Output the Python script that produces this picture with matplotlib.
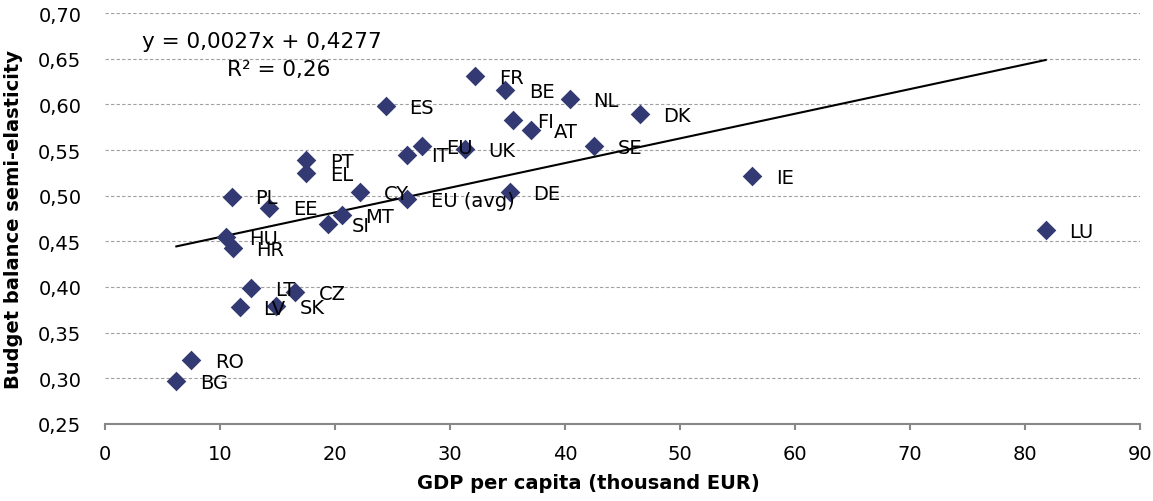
import numpy as np
import matplotlib
matplotlib.use("Agg")
import matplotlib.pyplot as plt
from matplotlib.ticker import FuncFormatter, MultipleLocator

# values
countries = ['FR', 'BE', 'NL', 'DK', 'ES', 'FI', 'AT', 'SE', 'IT', 'EU', 'UK',
             'PT', 'EL', 'CY', 'EU (avg)', 'PL', 'EE', 'MT', 'SI', 'HU', 'HR',
             'LT', 'LV', 'SK', 'CZ', 'RO', 'BG', 'DE', 'IE', 'LU']
gdp_pc = [32.2, 34.8, 40.4, 46.5, 24.4, 35.5, 37.0, 42.5, 26.3, 27.6, 31.3,
          17.5, 17.5, 22.2, 26.3, 11.0, 14.3, 20.6, 19.4, 10.5, 11.1,
          12.7, 11.7, 14.9, 16.5, 7.5, 6.2, 35.2, 56.3, 81.8]
semi_elast = [0.631, 0.616, 0.606, 0.589, 0.598, 0.583, 0.572, 0.554, 0.545, 0.554, 0.551,
              0.539, 0.525, 0.504, 0.496, 0.499, 0.487, 0.479, 0.469, 0.455, 0.443,
              0.399, 0.378, 0.379, 0.394, 0.320, 0.297, 0.504, 0.521, 0.462]

# linear trend as printed on the chart
slope = 0.0027
intercept = 0.4277
r_squared = 0.26

marker_col = '#333a73'
fs = 14

fig = plt.figure(figsize=(11.53, 5.02), dpi=100)
ax = fig.add_axes([0.0911, 0.1534, 0.8976, 0.8187])

ax.scatter(gdp_pc, semi_elast, marker='D', s=100, color=marker_col, zorder=3, linewidths=0)

for name, x, y in zip(countries, gdp_pc, semi_elast):
    ax.annotate(name, (x, y), xytext=(17, 0.5), textcoords='offset points',
                ha='left', va='center_baseline', fontsize=fs, color='black', zorder=4)

# trend line over the data range
x_line = np.array([min(gdp_pc), max(gdp_pc)])
ax.plot(x_line, slope * x_line + intercept, color='black', lw=1.5, zorder=2)

eq = 'y = {:.4f}x + {:.4f}'.format(slope, intercept).replace('.', ',')
ax.text(13.65, 0.6715, eq, ha='center', va='center_baseline', fontsize=15.5)
ax.text(15.1, 0.641, 'R² = {:.2f}'.format(r_squared).replace('.', ','),
        ha='center', va='center_baseline', fontsize=15.5)

ax.set_xlim(0, 90)
ax.set_ylim(0.25, 0.70)
ax.xaxis.set_major_locator(MultipleLocator(10))
ax.yaxis.set_major_locator(MultipleLocator(0.05))
ax.yaxis.set_major_formatter(FuncFormatter(lambda v, p: '{:.2f}'.format(v).replace('.', ',')))
ax.xaxis.set_major_formatter(FuncFormatter(lambda v, p: '{:.0f}'.format(v)))

ax.grid(axis='y', color='#a0a0a0', linestyle=(0, (3, 2)), lw=0.8)
ax.set_axisbelow(True)
for s in ['top', 'right', 'left']:
    ax.spines[s].set_visible(False)
ax.spines['bottom'].set_color('#888888')
ax.spines['bottom'].set_linewidth(1.5)
ax.tick_params(axis='y', length=0, pad=17, labelsize=fs)
ax.tick_params(axis='x', direction='out', length=4.5, width=1.5, color='#888888',
               pad=10, labelsize=fs)

ax.set_xlabel('GDP per capita (thousand EUR)', fontsize=14, fontweight='bold',
              labelpad=7, x=0.467)
ax.set_ylabel('Budget balance semi-elasticity', fontsize=14, fontweight='bold', labelpad=11)

fig.savefig('out.png', dpi=100)
